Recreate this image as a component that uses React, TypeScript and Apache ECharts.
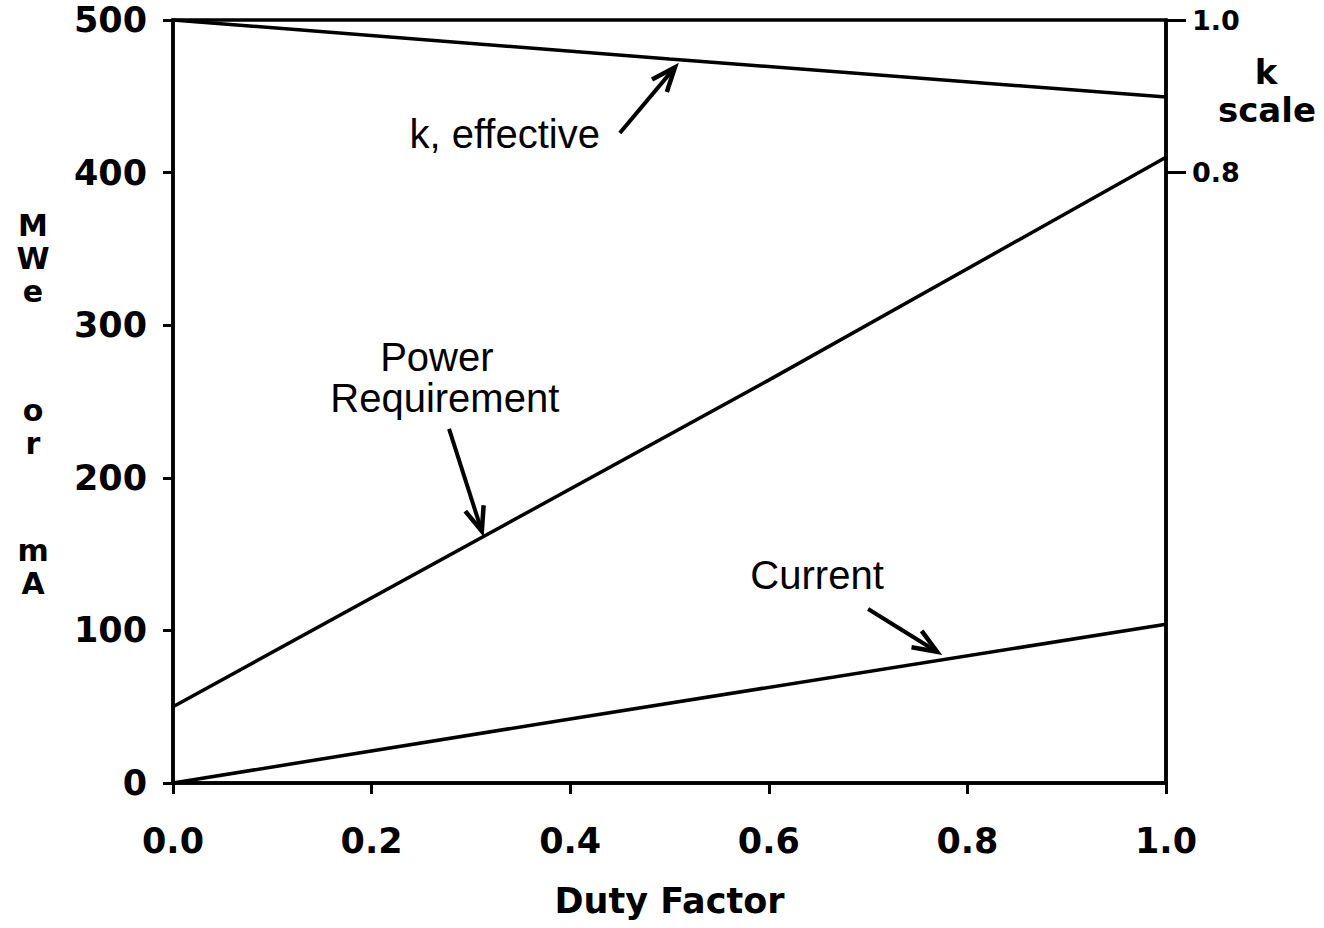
import React, { useEffect, useRef } from "react";
import * as echarts from "echarts";

// ---- Data ----
const kDuty = [0.0, 0.5, 1.0];
const kEffective = [1.0, 0.949, 0.899];

const powerDuty = [0.0, 0.6, 1.0];
const powerMWe = [50, 264, 410];

const currentDuty = [0.0, 0.4, 1.0];
const currentMA = [0, 42, 104];

const kTickValues = [0.8, 1.0];

// ---- Annotations (data coordinates on left axis) ----
const labelTexts = ["k, effective", "Power", "Requirement", "Current"];
const labelAt: [number, number][] = [
  [0.334, 425],
  [0.2657, 279],
  [0.2737, 252],
  [0.6486, 136],
];
const arrowTails: [number, number][] = [
  [0.45, 426],
  [0.278, 232],
  [0.7, 114],
];
const arrowHeads: [number, number][] = [
  [0.5055, 469],
  [0.311, 165],
  [0.7695, 86],
];

const yTitleLetters = ["M", "W", "e", "o", "r", "m", "A"];
const yTitleLetterY = [225, 258, 291, 410, 443, 550, 583];

const BOLD = '"DejaVu Sans", sans-serif';
const REG = '"Liberation Sans", Arial, sans-serif';

function zip(xs: number[], ys: number[]) {
  return xs.map((x, i) => [x, ys[i]]);
}

export default function App() {
  const ref = useRef<HTMLDivElement>(null);
  useEffect(() => {
    const chart = echarts.init(ref.current!, null, { renderer: "svg" });
    const axisLine = { show: true, onZero: false, lineStyle: { color: "#000", width: 3.5 } };
    const lineStyle = { color: "#000", width: 3.5 };
    const option: any = {
      animation: false,
      backgroundColor: "#fff",
      grid: {
        left: 173,
        right: 158,
        top: 20,
        bottom: 145,
        show: true,
        borderColor: "#000",
        borderWidth: 3.5,
        backgroundColor: "transparent",
      },
      xAxis: {
        type: "value",
        min: 0,
        max: 1,
        interval: 0.2,
        axisLine,
        axisTick: { show: true, length: 11, lineStyle: { color: "#000", width: 3 } },
        axisLabel: {
          formatter: (v: number) => v.toFixed(1),
          fontFamily: BOLD,
          fontWeight: "bold",
          fontSize: 35,
          color: "#000",
          margin: 40,
        },
        splitLine: { show: false },
        name: "Duty Factor",
        nameLocation: "middle",
        nameGap: 100,
        nameTextStyle: { fontFamily: BOLD, fontWeight: "bold", fontSize: 35, color: "#000" },
      },
      yAxis: [
        {
          type: "value",
          position: "left",
          min: 0,
          max: 500,
          interval: 100,
          axisLine,
          axisTick: { show: true, length: 10, lineStyle: { color: "#000", width: 3 } },
          axisLabel: {
            fontFamily: BOLD,
            fontWeight: "bold",
            fontSize: 35,
            color: "#000",
            margin: 26,
            padding: [10, 0, 0, 0],
          },
          splitLine: { show: false },
        },
        {
          type: "value",
          position: "right",
          min: 0,
          max: 1,
          interval: 0.2,
          axisLine,
          axisTick: {
            show: true,
            length: 20,
            customValues: kTickValues,
            lineStyle: { color: "#000", width: 3 },
          },
          axisLabel: {
            customValues: kTickValues,
            formatter: (v: number) => v.toFixed(1),
            fontFamily: BOLD,
            fontWeight: "bold",
            fontSize: 27,
            color: "#000",
            margin: 26,
          },
          splitLine: { show: false },
        },
      ],
      series: [
        {
          name: "k, effective",
          type: "line",
          yAxisIndex: 1,
          data: zip(kDuty, kEffective),
          symbol: "none",
          lineStyle,
        },
        {
          name: "Power Requirement",
          type: "line",
          yAxisIndex: 0,
          data: zip(powerDuty, powerMWe),
          symbol: "none",
          lineStyle,
        },
        {
          name: "Current",
          type: "line",
          yAxisIndex: 0,
          data: zip(currentDuty, currentMA),
          symbol: "none",
          lineStyle,
        },
      ],
    };
    chart.setOption(option);

    const toPx = (p: [number, number]) =>
      chart.convertToPixel({ seriesIndex: 1 }, p) as number[];

    const graphics: any[] = [];
    // vertical y title
    yTitleLetters.forEach((ch, i) => {
      graphics.push({
        type: "text",
        x: 33,
        y: yTitleLetterY[i],
        style: {
          text: ch,
          fontFamily: BOLD,
          fontWeight: "bold",
          fontSize: 30,
          lineHeight: 30,
          fill: "#000",
          align: "center",
          verticalAlign: "middle",
        },
      });
    });
    // k scale title
    graphics.push({
      type: "text",
      x: 1266,
      y: 72,
      style: { text: "k", fontFamily: BOLD, fontWeight: "bold", fontSize: 34, lineHeight: 34, fill: "#000", align: "center", verticalAlign: "middle" },
    });
    graphics.push({
      type: "text",
      x: 1267,
      y: 110,
      style: { text: "scale", fontFamily: BOLD, fontWeight: "bold", fontSize: 34, lineHeight: 34, fill: "#000", align: "center", verticalAlign: "middle" },
    });
    // annotation labels
    labelTexts.forEach((t, i) => {
      const [px, py] = toPx(labelAt[i]);
      graphics.push({
        type: "text",
        x: px,
        y: py,
        style: { text: t, fontFamily: REG, fontSize: 40, lineHeight: 40, fill: "#000", align: "center", verticalAlign: "middle" },
      });
    });
    // arrows
    arrowTails.forEach((tail, i) => {
      const [x1, y1] = toPx(tail);
      const [x2, y2] = toPx(arrowHeads[i]);
      const ang = Math.atan2(y2 - y1, x2 - x1);
      const len = 26;
      const spread = 0.38;
      const a1 = [x2 - len * Math.cos(ang - spread), y2 - len * Math.sin(ang - spread)];
      const a2 = [x2 - len * Math.cos(ang + spread), y2 - len * Math.sin(ang + spread)];
      graphics.push({
        type: "line",
        shape: { x1, y1, x2: x2 - 3 * Math.cos(ang), y2: y2 - 3 * Math.sin(ang) },
        style: { stroke: "#000", lineWidth: 4 },
      });
      graphics.push({
        type: "polyline",
        shape: { points: [a1, [x2, y2], a2] },
        style: { stroke: "#000", lineWidth: 4.5, fill: null, lineJoin: "miter", miterLimit: 10 },
      });
    });
    chart.setOption({ graphic: graphics });

    return () => chart.dispose();
  }, []);
  return (
    <div
      ref={ref}
      style={{ position: "absolute", left: 0, top: 0, width: 1324, height: 928, background: "#fff" }}
    />
  );
}
